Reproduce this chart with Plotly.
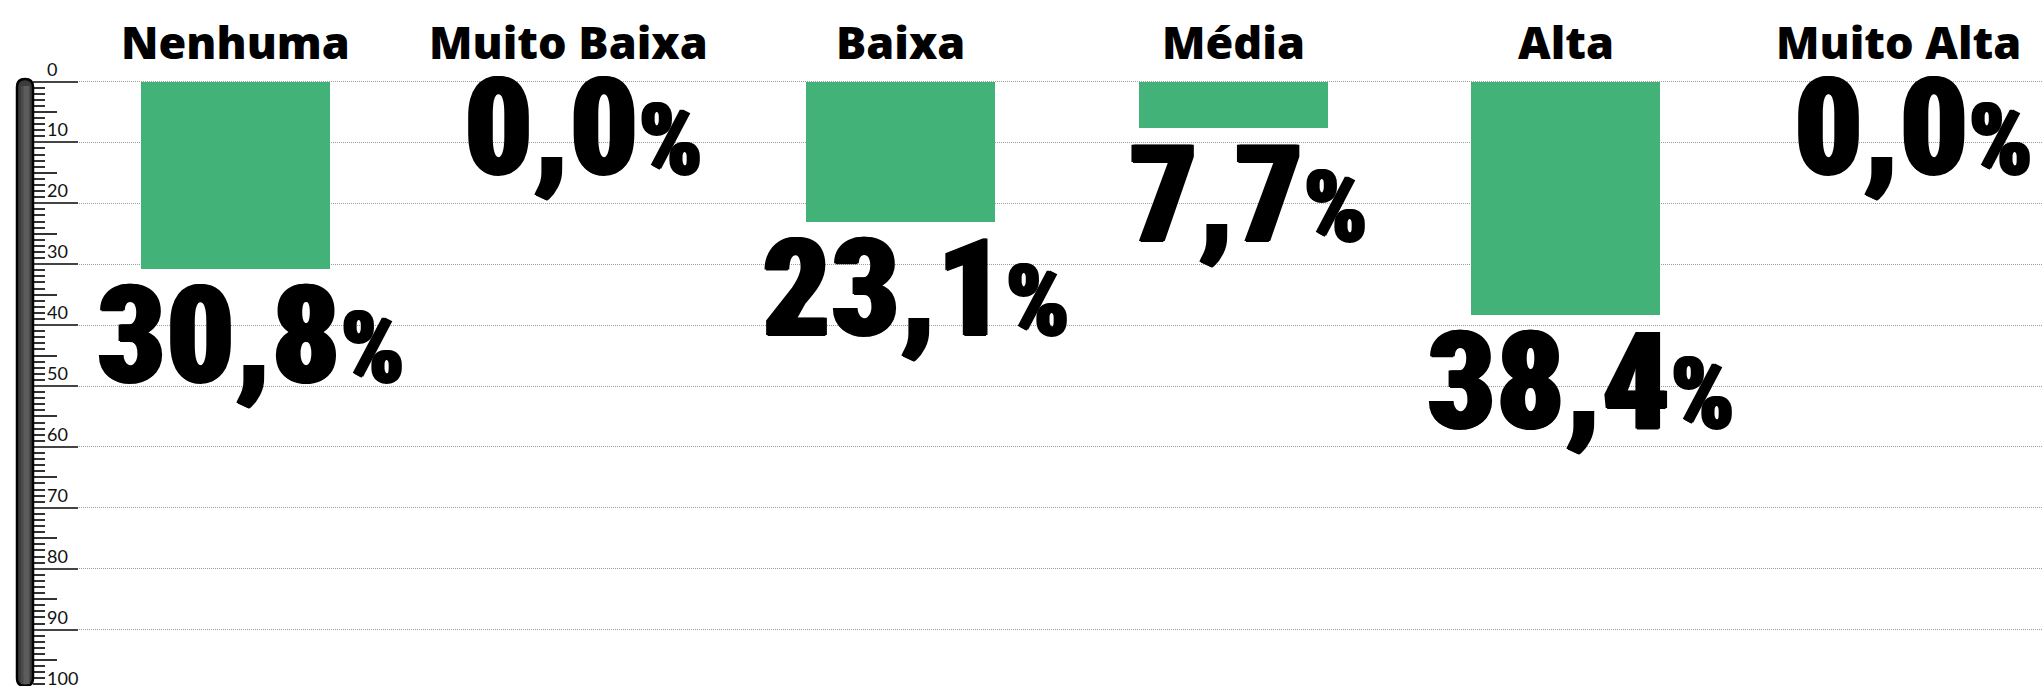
import plotly.graph_objects as go

categories = ["Nenhuma", "Muito Baixa", "Baixa", "Média", "Alta", "Muito Alta"]
values = [30.8, 0.0, 23.1, 7.7, 38.4, 0.0]
value_labels = ["30,8", "0,0", "23,1", "7,7", "38,4", "0,0"]
major_ticks = [0, 10, 20, 30, 40, 50, 60, 70, 80, 90, 100]
half_ticks = [5, 15, 25, 35, 45, 55, 65, 75, 85, 95]
minor_ticks = [v for v in range(0, 101) if v % 5 != 0]

W, H = 2043, 686
ML = 33
PW = W - ML
Y0PX = 81.5          # pixel of value 0
PXU = 6.09           # pixels per unit
XU = 332.6           # pixels per category
X0PX = 235.5         # pixel of first category centre

yr_top = -Y0PX / PXU
yr_bot = (H - Y0PX) / PXU
xr0 = (ML - X0PX) / XU
xr1 = xr0 + PW / XU

GREEN = "#42B278"

fig = go.Figure()
fig.add_trace(go.Bar(
    x=categories, y=values, marker=dict(color=GREEN, line=dict(width=0)),
    width=189 / XU, hoverinfo="skip",
))
fig.add_trace(go.Scatter(x=[categories[0]], y=[None], yaxis="y2", showlegend=False,
                         hoverinfo="skip"))

def px2paper_x(px):
    return (px - ML) / PW

def px2paper_y(py):
    return 1 - py / H

def val2paper_y(v):
    # same linear mapping as the y axis range
    return (v - yr_bot) / (yr_top - yr_bot)

annotations = []
# category names on top
for c in categories:
    annotations.append(dict(
        x=c, y=px2paper_y(41), xref="x", yref="paper", text=c, showarrow=False,
        xanchor="center", yanchor="middle",
        font=dict(family="Open Sans", size=45, color="#000", weight=800),
    ))
# value labels
for c, v, lab in zip(categories, values, value_labels):
    gap = 16 if v > 0 else -4
    annotations.append(dict(
        x=c, y=v, xref="x", yref="y",
        text=('<span style="font-stretch:condensed">' + lab +
              '<span style="font-size:100px">%</span></span>'),
        showarrow=False, xanchor="center", yanchor="top",
        xshift=15, yshift=30.5 - gap,
        font=dict(family="Roboto Condensed, Open Sans, sans-serif",
                  size=135, color="#000", weight=900,
                  shadow="1.5px 0 0 #000, -1.5px 0 0 #000, 0 1px 0 #000"),
    ))
# tick labels (paper-referenced so the 100 label at the edge is still drawn)
for t in major_ticks:
    annotations.append(dict(
        x=px2paper_x(45), y=val2paper_y(t), xref="paper", yref="paper", text=str(t),
        showarrow=False, xanchor="left", yanchor="bottom", yshift=0,
        font=dict(family="Lato", size=18, color="#111"),
    ))

# ruler body
def ruler_path(x0, x1, y0, y1, r):
    X = lambda p: px2paper_x(p)
    Y = lambda p: px2paper_y(p)
    xm = (x0 + x1) / 2
    return (f"M {X(x0)},{Y(y1 - r)} L {X(x0)},{Y(y0 + r)} "
            f"Q {X(x0)},{Y(y0)} {X(xm)},{Y(y0)} Q {X(x1)},{Y(y0)} {X(x1)},{Y(y0 + r)} "
            f"L {X(x1)},{Y(y1 - r)} Q {X(x1)},{Y(y1)} {X(xm)},{Y(y1)} "
            f"Q {X(x0)},{Y(y1)} {X(x0)},{Y(y1 - r)} Z")

shapes = [
    dict(type="path", xref="paper", yref="paper", path=ruler_path(17, 33, 79, 686, 8),
         fillcolor="#3c3c3c", line=dict(color="#000", width=2.5), layer="above"),
    dict(type="rect", xref="paper", yref="paper", x0=px2paper_x(21), x1=px2paper_x(30),
         y0=px2paper_y(684), y1=px2paper_y(86), fillcolor="#4a4a4a", line=dict(width=0),
         layer="above"),
    dict(type="rect", xref="paper", yref="paper", x0=px2paper_x(23.5), x1=px2paper_x(29),
         y0=px2paper_y(684), y1=px2paper_y(86), fillcolor="#5c5c5c", line=dict(width=0),
         layer="above"),
]

fig.update_layout(
    width=W, height=H,
    margin=dict(l=ML, r=0, t=0, b=0, autoexpand=False),
    paper_bgcolor="white", plot_bgcolor="white",
    showlegend=False, bargap=0,
    xaxis=dict(range=[xr0, xr1], visible=False, fixedrange=True, automargin=False),
    yaxis=dict(
        range=[yr_bot, yr_top], tickmode="array", tickvals=major_ticks, automargin=False,
        showticklabels=False, showgrid=True, gridcolor="#9c9c9c", griddash="1px,1px",
        gridwidth=1, zeroline=False, showline=False,
        ticks="inside", ticklen=45, tickcolor="#444", tickwidth=1.5,
        minor=dict(tickmode="array", tickvals=minor_ticks, ticks="inside", ticklen=12,
                   tickcolor="#333", tickwidth=1.5, showgrid=False),
    ),
    yaxis2=dict(
        range=[yr_bot, yr_top], overlaying="y", side="left", anchor="x", automargin=False,
        tickmode="array", tickvals=half_ticks, showticklabels=False, showgrid=False,
        zeroline=False, showline=False, ticks="inside", ticklen=24,
        tickcolor="#333", tickwidth=1.5,
    ),
    annotations=annotations,
    shapes=shapes,
)

fig.write_html("out.html", config={"displayModeBar": False},
               post_script="document.body.style.margin='0';document.body.style.overflow='hidden';")
